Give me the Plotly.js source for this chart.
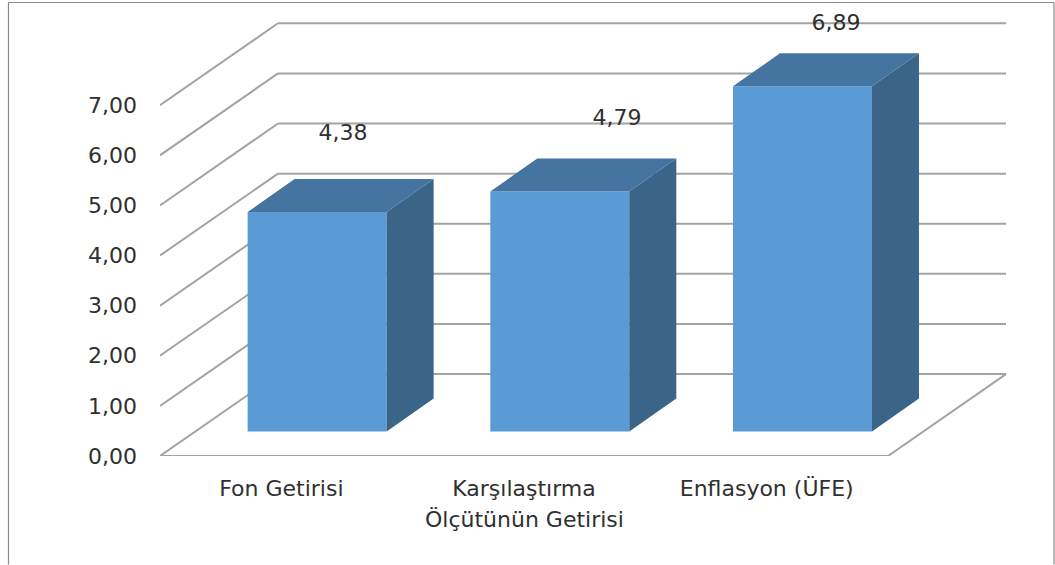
<!DOCTYPE html>
<html>
<head>
<meta charset="utf-8">
<script src="https://cdn.plot.ly/plotly-3.0.1.min.js"></script>
<style>html,body{margin:0;padding:0;background:#fff;overflow:hidden}</style>
</head>
<body>
<div id="chart" style="width:1055px;height:565px"></div>
<script>
const categories = ["Fon Getirisi", "Karşılaştırma", "Enflasyon (ÜFE)"];
const categorySecondLine = ["", "Ölçütünün Getirisi", ""];
const values = [4.38, 4.79, 6.89];
const valueLabels = ["4,38", "4,79", "6,89"];
const yTickValues = [0, 1, 2, 3, 4, 5, 6, 7];
const yTickLabels = ["0,00", "1,00", "2,00", "3,00", "4,00", "5,00", "6,00", "7,00"];
const labelShiftX = [0.254, 0.383, 0.286];
const labelLift = [2.04, 1.92, 1.73];

// plot frame in pixels and resulting scales
const plotLeft = 160, plotRight = 1012, plotTop = 5, plotBottom = 456.5;
const pxPerCategory = 728 / 3, pxPerUnit = 50.17;
// oblique projection, expressed in axis units
const wallDx = 118 / pxPerCategory, wallDy = 82 / pxPerUnit;
const barDx = 47 / pxPerCategory, barDy = 33 / pxPerUnit;
const barBase = 24.5 / pxPerUnit, barShift = 35.8 / pxPerCategory, barWidth = 139 / pxPerCategory;
const xMin = -0.5, xMax = xMin + (plotRight - plotLeft) / pxPerCategory;
const yMax = (plotBottom - plotTop) / pxPerUnit;
const xFrontEnd = 2.5;
const gridColor = "#a3a3a3", textColor = "#303030", fontFamily = "'DejaVu Sans', sans-serif";

const shapes = [];
function gridLine(x0, y0, x1, y1) {
  shapes.push({type: "line", xref: "x", yref: "y", layer: "below", x0, y0, x1, y1,
    line: {color: gridColor, width: 2}});
}
yTickValues.forEach(v => {
  gridLine(xMin, v, xMin + wallDx, v + wallDy);
  gridLine(xMin + wallDx, v + wallDy, xFrontEnd + wallDx, v + wallDy);
});
gridLine(xMin, 0, xFrontEnd, 0);
gridLine(xFrontEnd, 0, xFrontEnd + wallDx, wallDy);

// outer frame of the picture
const W = plotRight - plotLeft, H = plotBottom - plotTop;
const px = p => (p - plotLeft) / W, py = p => (plotBottom - p) / H;
[[8.5, 2.5, 1054, 2.5], [8.5, 2.5, 8.5, 565], [1054, 2.5, 1054, 565]].forEach(s => {
  shapes.push({type: "line", xref: "paper", yref: "paper", layer: "below",
    x0: px(s[0]), y0: py(s[1]), x1: px(s[2]), y1: py(s[3]), line: {color: "#8c8c8c", width: 1.2}});
});

const barX = values.map((_, i) => i + barShift);
const sideX = [], sideY = [], topX = [], topY = [];
values.forEach((v, i) => {
  const r = barX[i] + barWidth / 2, l = barX[i] - barWidth / 2, t = barBase + v;
  sideX.push(r, r + barDx, r + barDx, r, r, null);
  sideY.push(barBase, barBase + barDy, t + barDy, t, barBase, null);
  topX.push(l, l + barDx, r + barDx, r, l, null);
  topY.push(t, t + barDy, t + barDy, t, t, null);
});

const traces = [
  {type: "bar", x: barX, y: values, base: barBase, width: barWidth,
    marker: {color: "#5b9bd5", line: {width: 0}}, hoverinfo: "skip"},
  {type: "scatter", mode: "lines", x: sideX, y: sideY, fill: "toself", fillcolor: "#3a6488",
    line: {width: 0, color: "#3a6488"}, hoverinfo: "skip"},
  {type: "scatter", mode: "lines", x: topX, y: topY, fill: "toself", fillcolor: "#44749f",
    line: {width: 0, color: "#44749f"}, hoverinfo: "skip"},
  {type: "scatter", mode: "text", cliponaxis: false,
    x: values.map((_, i) => i + labelShiftX[i]),
    y: values.map((v, i) => v + labelLift[i]),
    text: valueLabels, textposition: "middle center",
    textfont: {family: fontFamily, size: 22, color: textColor}, hoverinfo: "skip"}
];

const annotations = categorySecondLine.map((t, i) => t ? {
  text: t, xref: "x", yref: "paper", x: i, y: py(520), showarrow: false,
  xanchor: "center", yanchor: "middle", font: {family: fontFamily, size: 22, color: textColor}
} : null).filter(Boolean);

const layout = {
  width: 1055, height: 565, autosize: false, showlegend: false,
  paper_bgcolor: "#fff", plot_bgcolor: "rgba(0,0,0,0)",
  margin: {l: plotLeft, r: 1055 - plotRight, t: plotTop, b: 565 - plotBottom, pad: 0},
  barmode: "overlay",
  xaxis: {type: "linear", range: [xMin, xMax], tickvals: [0, 1, 2], ticktext: categories,
    showgrid: false, zeroline: false, showline: false, ticks: "", ticklabelstandoff: 17,
    tickangle: 0, tickfont: {family: fontFamily, size: 22, color: textColor}},
  yaxis: {type: "linear", range: [0, yMax], tickvals: yTickValues, ticktext: yTickLabels,
    showgrid: false, zeroline: false, showline: false, ticks: "", ticklabelstandoff: 22,
    tickfont: {family: fontFamily, size: 22, color: textColor}},
  shapes, annotations
};
Plotly.newPlot("chart", traces, layout, {displayModeBar: false, staticPlot: true});
</script>
</body>
</html>
